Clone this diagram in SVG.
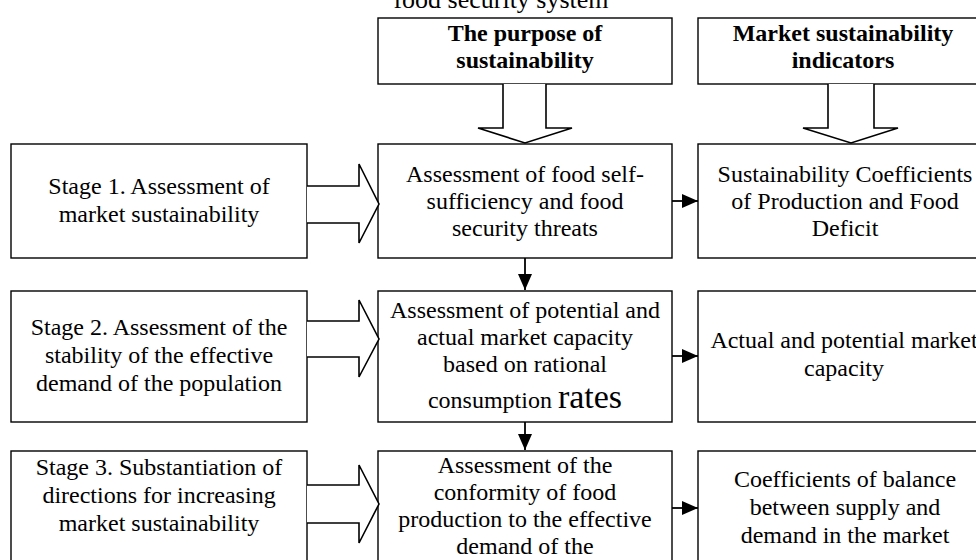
<svg xmlns="http://www.w3.org/2000/svg" width="976" height="560" viewBox="0 0 976 560">
<defs>
<style>
.box{fill:#fff;stroke:#000;stroke-width:1.4}
.blk{fill:#fff;stroke:#000;stroke-width:1.6;stroke-linejoin:miter}
.t{font-family:"Liberation Serif","Times New Roman",serif;font-size:24px;fill:#000;text-anchor:middle}
.b{font-weight:bold}
.con{stroke:#000;stroke-width:1.8;fill:none}
</style>
<marker id="ah" markerUnits="userSpaceOnUse" markerWidth="16" markerHeight="14" refX="16" refY="7" orient="auto">
<path d="M0,0 L16,7 L0,14 z" fill="#000"/>
</marker>
</defs>
<rect width="976" height="560" fill="#fff"/>

<text class="t" x="501" y="8" style="font-size:26px">food security system</text>

<g id="top-purpose">
<rect class="box" x="378" y="18" width="294" height="66"/>
<text class="t b" x="525" y="41">The purpose of</text>
<text class="t b" x="525" y="68">sustainability</text>
</g>
<g id="top-indicators">
<rect class="box" x="698" y="18" width="310" height="66"/>
<text class="t b" x="843" y="41">Market sustainability</text>
<text class="t b" x="843" y="68">indicators</text>
</g>

<g id="stage1">
<rect class="box" x="11" y="144" width="296" height="114"/>
<text class="t" x="159" y="194">Stage 1. Assessment of</text>
<text class="t" x="159" y="222">market sustainability</text>
</g>
<g id="assess1">
<rect class="box" x="378" y="144" width="294" height="114"/>
<text class="t" x="525" y="182">Assessment of food self-</text>
<text class="t" x="525" y="209">sufficiency and food</text>
<text class="t" x="525" y="236">security threats</text>
</g>
<g id="result1">
<rect class="box" x="698" y="144" width="310" height="114"/>
<text class="t" x="845" y="182">Sustainability Coefficients</text>
<text class="t" x="845" y="209">of Production and Food</text>
<text class="t" x="845" y="236">Deficit</text>
</g>

<g id="stage2">
<rect class="box" x="11" y="291" width="296" height="131"/>
<text class="t" x="159" y="335">Stage 2. Assessment of the</text>
<text class="t" x="159" y="363">stability of the effective</text>
<text class="t" x="159" y="391">demand of the population</text>
</g>
<g id="assess2">
<rect class="box" x="378" y="291" width="294" height="131"/>
<text class="t" x="525" y="318">Assessment of potential and</text>
<text class="t" x="525" y="345">actual market capacity</text>
<text class="t" x="525" y="372">based on rational</text>
<text class="t" x="525" y="408">consumption <tspan style="font-size:34px">rates</tspan></text>
</g>
<g id="result2">
<rect class="box" x="698" y="291" width="310" height="131"/>
<text class="t" x="844" y="348">Actual and potential market</text>
<text class="t" x="844" y="376">capacity</text>
</g>

<g id="stage3">
<rect class="box" x="11" y="451" width="296" height="130"/>
<text class="t" x="159" y="475">Stage 3. Substantiation of</text>
<text class="t" x="159" y="503">directions for increasing</text>
<text class="t" x="159" y="531">market sustainability</text>
</g>
<g id="assess3">
<rect class="box" x="378" y="451" width="294" height="130"/>
<text class="t" x="525" y="473">Assessment of the</text>
<text class="t" x="525" y="500">conformity of food</text>
<text class="t" x="525" y="527">production to the effective</text>
<text class="t" x="525" y="554">demand of the</text>
</g>
<g id="result3">
<rect class="box" x="698" y="451" width="310" height="130"/>
<text class="t" x="845" y="487">Coefficients of balance</text>
<text class="t" x="845" y="515">between supply and</text>
<text class="t" x="845" y="543">demand in the market</text>
</g>

<g id="connectors">
<path class="blk" d="M503,84 V128 H478 L525,143 L572,128 H546 V84"/>
<path class="blk" d="M828,84 V128 H803 L851,143 L898,128 H874 V84"/>
<path class="blk" d="M307,186 H359 V164 L379,204 L359,243 V223 H307"/>
<path class="blk" d="M307,321 H359 V300 L379,339 L359,377 V357 H307"/>
<path class="blk" d="M307,485 H359 V465 L379,504 L359,543 V523 H307"/>
<line class="con" x1="672" y1="201" x2="698" y2="201" marker-end="url(#ah)"/>
<line class="con" x1="672" y1="356" x2="698" y2="356" marker-end="url(#ah)"/>
<line class="con" x1="672" y1="508" x2="698" y2="508" marker-end="url(#ah)"/>
<line class="con" x1="525" y1="258" x2="525" y2="290" marker-end="url(#ah)"/>
<line class="con" x1="525" y1="422" x2="525" y2="450" marker-end="url(#ah)"/>
</g>
</svg>
